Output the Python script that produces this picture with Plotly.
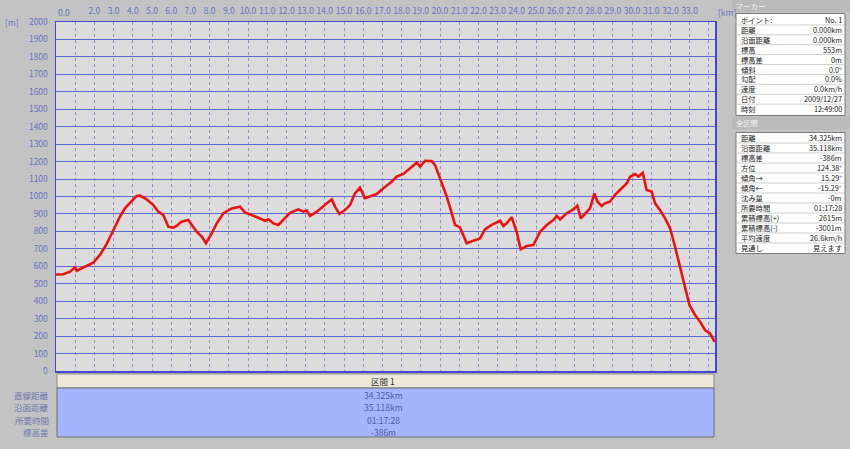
import plotly.graph_objects as go

W, H = 850, 449


def px(x):
    return x / W


def py(y):
    return 1 - y / H


# ---------------- data ----------------
distance_km = [
    0, 0.38, 0.73, 0.99, 1.08, 1.42, 1.68, 1.94, 2.29, 2.64,
    2.99, 3.33, 3.59, 3.94, 4.20, 4.38, 4.72, 5.07, 5.33, 5.59,
    5.85, 6.11, 6.28, 6.54, 6.89, 7.07, 7.33, 7.59, 7.81, 8.11,
    8.37, 8.72, 9.15, 9.58, 9.84, 10.19, 10.63, 10.89, 11.06, 11.32,
    11.58, 11.93, 12.19, 12.62, 12.88, 13.06, 13.23, 13.58, 13.92, 14.36,
    14.53, 14.76, 15.05, 15.31, 15.57, 15.83, 16.09, 16.35, 16.70, 17.05,
    17.48, 17.74, 18.09, 18.44, 18.79, 18.96, 19.22, 19.57, 19.74, 20.0,
    20.35, 20.61, 20.78, 21.04, 21.39, 21.74, 22.08, 22.34, 22.69, 23.13,
    23.30, 23.47, 23.73, 23.99, 24.20, 24.51, 24.86, 25.21, 25.56, 25.90,
    26.08, 26.25, 26.60, 26.94, 27.15, 27.33, 27.55, 27.81, 28.04, 28.20,
    28.42, 28.59, 28.85, 29.11, 29.46, 29.72, 29.90, 30.16, 30.33, 30.56,
    30.76, 31.02, 31.20, 31.46, 31.72, 31.98, 32.24, 32.50, 32.76, 32.99,
    33.28, 33.54, 33.80, 34.06, 34.30,
]
elevation_m = [
    553, 554, 569, 594, 575, 594, 607, 621, 665, 728,
    808, 884, 932, 970, 1003, 1005, 984, 951, 913, 894,
    827, 821, 831, 856, 865, 837, 798, 770, 732, 789,
    846, 904, 932, 942, 909, 894, 875, 861, 869, 846,
    837, 875, 907, 926, 913, 919, 888, 913, 946, 984,
    942, 900, 922, 951, 1018, 1051, 990, 999, 1014, 1047,
    1085, 1114, 1129, 1162, 1194, 1171, 1205, 1203, 1180, 1104,
    999, 904, 837, 823, 732, 747, 760, 812, 837, 861,
    831, 846, 881, 798, 697, 716, 722, 798, 837, 865,
    888, 869, 904, 926, 947, 875, 904, 932, 1018, 970,
    946, 961, 970, 1009, 1047, 1075, 1114, 1129, 1114, 1135,
    1037, 1028, 961, 922, 875, 818, 712, 598, 483, 378,
    321, 283, 235, 216, 167,
]

x_tick_vals = list(range(1, 35))
x_tick_text = ['' if v in (1, 34) else f'{v}.0' for v in x_tick_vals]
x_first_label = '0.0'
x_unit = '[km]'
y_tick_vals = list(range(0, 2001, 100))
y_unit = '[m]'

marker_title = 'マーカー'
marker_labels = ['ポイント:', '距離', '沿面距離', '標高', '標高差', '傾斜', '勾配', '速度', '日付', '時刻']
marker_values = ['No. 1', '0.000km', '0.000km', '553m', '0m', '0.0°', '0.0%', '0.0km/h', '2009/12/27', '12:49:00']

total_title = '全区間'
total_labels = ['距離', '沿面距離', '標高差', '方位', '傾角→', '傾角←', '沈み量', '所要時間',
                '累積標高(+)', '累積標高(-)', '平均速度', '見通し']
total_values = ['34.325km', '35.118km', '-386m', '124.38°', '15.29°', '-15.29°', '-0m', '01:17:28',
                '2615m', '-3001m', '26.6km/h', '見えます']

section_title = '区間 1'
section_labels = ['直線距離', '沿面距離', '所要時間', '標高差']
section_values = ['34.325km', '35.118km', '01:17:28', '-386m']

# ---------------- styles ----------------
FONT = 'Noto Sans CJK JP'
AXIS_TXT = '#6674c4'
BG = '#c3c3c3'
PANEL_SIZE = 7.3

fig = go.Figure()
fig.add_trace(go.Scatter(
    x=distance_km, y=elevation_m, mode='lines',
    line=dict(color='#ee1111', width=2.6), hoverinfo='skip',
))

fig.update_layout(
    width=W, height=H, margin=dict(l=0, r=0, t=0, b=0, autoexpand=False),
    paper_bgcolor=BG, plot_bgcolor='#dcdcdc', showlegend=False,
    xaxis=dict(
        domain=[px(56), px(715)], range=[0, 34.32], side='top',
        tickvals=x_tick_vals, ticktext=x_tick_text, ticks='', tickangle=0,
        showgrid=True, gridcolor='#8c94c8', griddash='dot', gridwidth=1,
        zeroline=False, showline=True, mirror=True, linecolor='#4646c8', linewidth=1.5,
        tickfont=dict(family=FONT, size=8.5, color=AXIS_TXT), ticklabelstandoff=3,
        automargin=False, fixedrange=True,
    ),
    yaxis=dict(
        domain=[py(371), py(22)], range=[0, 2000],
        tickvals=y_tick_vals, ticks='',
        showgrid=True, gridcolor='#5a68d4', gridwidth=1,
        zeroline=False, showline=True, mirror=True, linecolor='#4646c8', linewidth=1.5,
        tickfont=dict(family=FONT, size=8.5, color=AXIS_TXT), ticklabelstandoff=5,
        automargin=False, fixedrange=True,
    ),
)

shapes = []
ann = []


def text(x, y, s, anchor='left', color='#222222', size=PANEL_SIZE):
    ann.append(dict(x=px(x), y=py(y), xref='paper', yref='paper', text=s, showarrow=False,
                    xanchor=anchor, yanchor='middle', borderpad=0,
                    font=dict(family=FONT, size=size, color=color)))


def rect(x0, y0, x1, y1, fill, line='rgba(0,0,0,0)', lw=1):
    shapes.append(dict(type='rect', xref='paper', yref='paper', x0=px(x0), x1=px(x1),
                       y0=py(y1), y1=py(y0), fillcolor=fill, line=dict(color=line, width=lw),
                       layer='above'))


def hline(x0, x1, y, color, lw=1):
    shapes.append(dict(type='line', xref='paper', yref='paper', x0=px(x0), x1=px(x1),
                       y0=py(y), y1=py(y), line=dict(color=color, width=lw), layer='above'))


# axis extra labels
ann.append(dict(x=0, y=py(12), xref='x', yref='paper', yanchor='middle', xanchor='left',
                xshift=1, text=x_first_label, showarrow=False, borderpad=0,
                font=dict(family=FONT, size=8.5, color=AXIS_TXT)))
text(717, 12, x_unit, 'left', AXIS_TXT, 8.5)
text(4, 22, y_unit, 'left', AXIS_TXT, 8.5)

# bottom section table
rect(57, 374, 714, 388, '#ece9d8', '#8a8a8a', 1)
rect(57, 388, 714, 437, '#a5b5fd', '#6e6e6e', 1)
text(383, 381, section_title, 'center', '#333333', 8.5)
for i, (lab, val) in enumerate(zip(section_labels, section_values)):
    yy = 395 + 12.3 * i
    text(50, yy, lab, 'right', '#6c78b4', 8.5)
    text(383, yy, val, 'center', '#4e5ca8', 8.5)

# right panel: marker
rect(732, 0, 850, 12, '#bababa')
text(735, 6, marker_title, 'left', '#f2f2f2')
rect(736, 13.5, 845, 115.5, '#ffffff', '#7a7a7a', 1)
for i, (lab, val) in enumerate(zip(marker_labels, marker_values)):
    yy = 20 + 9.9 * i
    if i < len(marker_labels) - 1:
        hline(737, 844, yy + 4.95, '#d0d0d0')
    text(740, yy, lab, 'left', '#222222')
    text(843, yy, val, 'right', '#222222')

# right panel: total section
rect(732, 116.5, 850, 129.5, '#bababa')
text(735, 123, total_title, 'left', '#f2f2f2')
rect(736, 132.5, 845, 253.5, '#ffffff', '#7a7a7a', 1)
for i, (lab, val) in enumerate(zip(total_labels, total_values)):
    yy = 138 + 10 * i
    if i < len(total_labels) - 1:
        hline(737, 844, yy + 5, '#d0d0d0')
    text(740, yy, lab, 'left', '#222222')
    text(843, yy, val, 'right', '#222222')

fig.update_layout(shapes=shapes, annotations=ann)
fig.write_html(
    'out.html',
    config={'displayModeBar': False, 'staticPlot': True},
    post_script="document.body.style.margin='0';document.body.style.padding='0';"
                "document.body.style.overflow='hidden';",
)
